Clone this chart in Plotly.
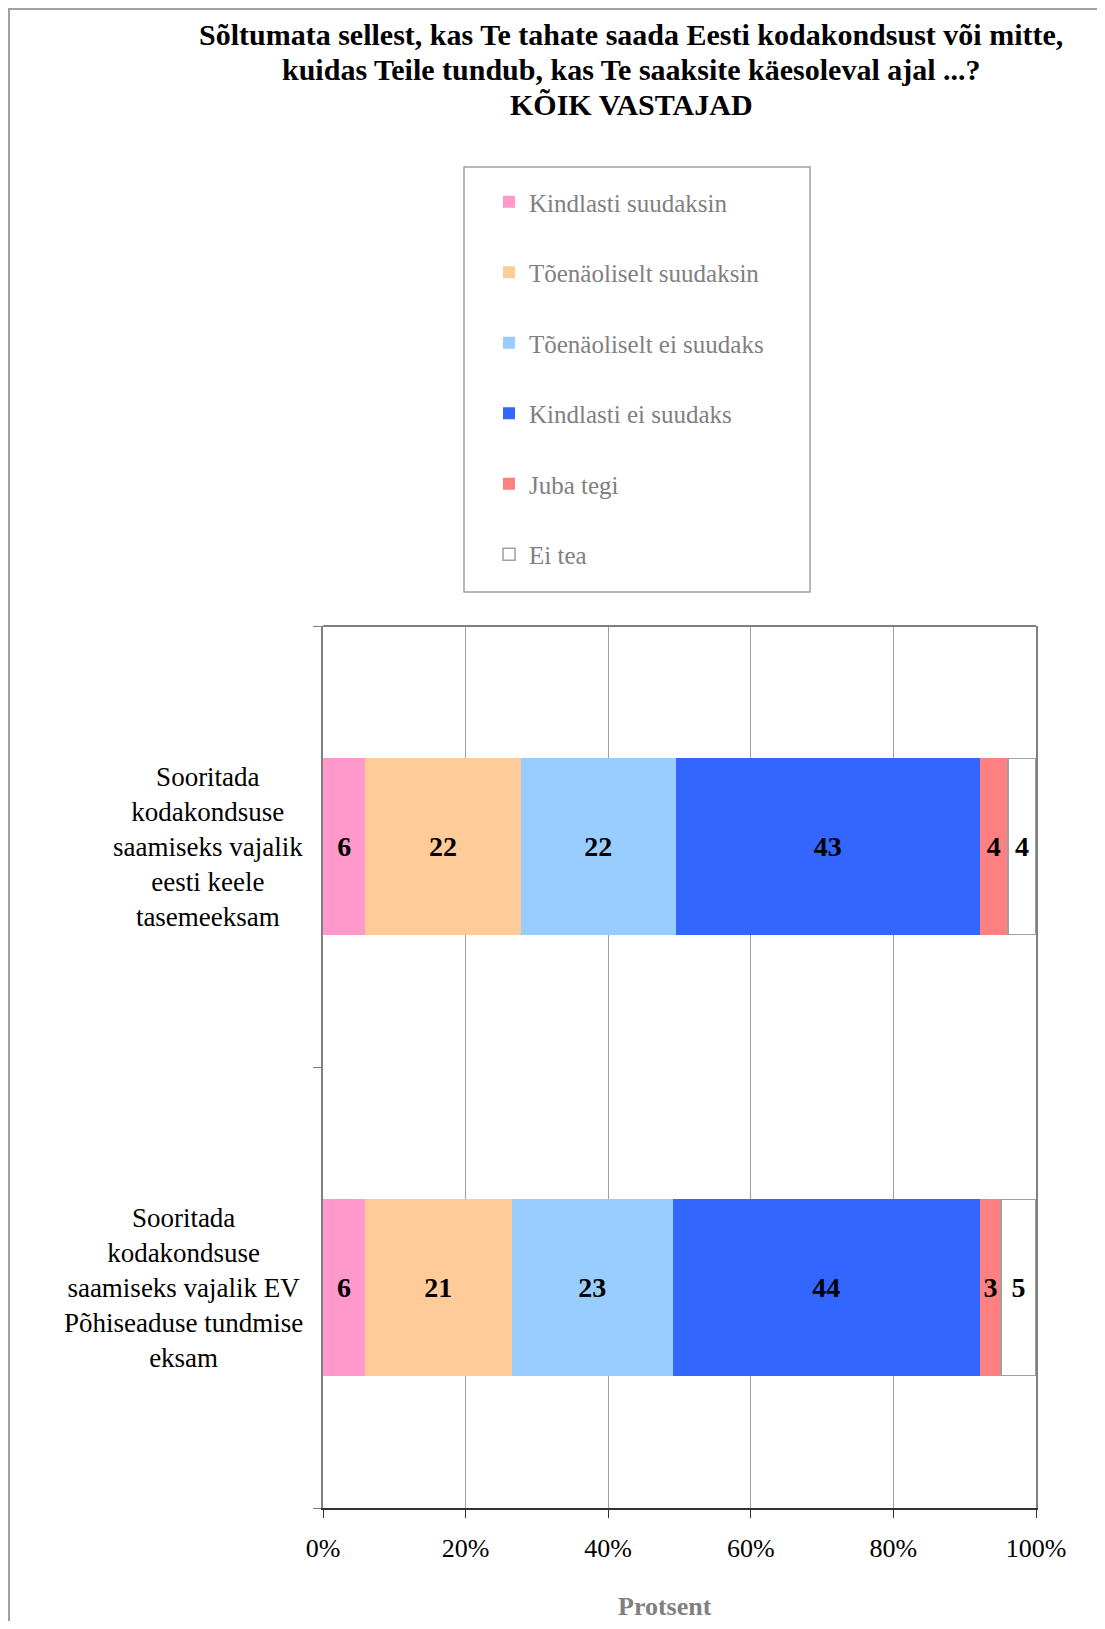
import plotly.graph_objects as go

# data
categories = [
    "Sooritada<br>kodakondsuse<br>saamiseks vajalik EV<br>Põhiseaduse tundmise<br>eksam",
    "Sooritada<br>kodakondsuse<br>saamiseks vajalik<br>eesti keele<br>tasemeeksam",
]
series_names = [
    "Kindlasti suudaksin",
    "Tõenäoliselt suudaksin",
    "Tõenäoliselt ei suudaks",
    "Kindlasti ei suudaks",
    "Juba tegi",
    "Ei tea",
]
# values per series, same order as categories (bottom, top)
values = [
    [6, 6],
    [21, 22],
    [23, 22],
    [44, 43],
    [3, 4],
    [5, 4],
]
colors = ["#FF99CC", "#FFCC99", "#99CCFF", "#3366FF", "#FF8080", "#FFFFFF"]
x_ticks = [0, 20, 40, 60, 80, 100]
x_ticktext = ["0%", "20%", "40%", "60%", "80%", "100%"]
title_lines = [
    "Sõltumata sellest, kas Te tahate saada Eesti kodakondsust või mitte,",
    "kuidas Teile tundub, kas Te saaksite käesoleval ajal ...?",
    "KÕIK VASTAJAD",
]

# the page body adds an 8px margin, so the figure is a bit smaller
OFF = 8
W, H = 1105 - 2 * OFF, 1629 - 2 * OFF
L, R, T, B = 323 - OFF, W - (1036 - OFF), 626 - OFF, H - (1508 - OFF)
SERIF = "Liberation Serif, Times New Roman, serif"


def px(x):
    # page pixel -> paper x
    return (x - OFF - L) / (W - L - R)


def py(y):
    # page pixel -> paper y
    return (H - B - (y - OFF)) / (H - T - B)


fig = go.Figure()

for name, vals, col in zip(series_names, values, colors):
    is_white = col == "#FFFFFF"
    fig.add_trace(
        go.Bar(
            y=categories,
            x=vals,
            name=name,
            orientation="h",
            legendgroup=name,
            marker=dict(
                color=col,
                line=dict(color="#A0A0A0" if is_white else col, width=1.5 if is_white else 0),
            ),
            text=[str(v) for v in vals],
            textposition="inside",
            insidetextanchor="middle",
            textangle=0,
            textfont=dict(family=SERIF, size=28, color="black", weight="bold"),
        )
    )

# title, one annotation per line
for i, line in enumerate(title_lines):
    fig.add_annotation(
        x=px(631),
        y=py(34 + i * 35.3),
        xref="paper",
        yref="paper",
        text="<b>" + line + "</b>",
        showarrow=False,
        xanchor="center",
        yanchor="middle",
        font=dict(family=SERIF, size=30, color="black"),
    )

# category labels, centred lines, right edge near the axis
for cat in categories:
    fig.add_annotation(
        x=px(305),
        xref="paper",
        y=cat,
        yref="y",
        text=cat,
        showarrow=False,
        xanchor="right",
        yanchor="middle",
        align="center",
        font=dict(family=SERIF, size=27, color="black"),
    )

fig.add_annotation(
    x=px(665),
    y=py(1606),
    xref="paper",
    yref="paper",
    text="<b>Protsent</b>",
    showarrow=False,
    xanchor="center",
    yanchor="middle",
    font=dict(family=SERIF, size=26, color="#808080"),
)

# legend box, page border, top frame line
fig.add_shape(
    type="rect", xref="paper", yref="paper",
    x0=px(464), x1=px(810), y0=py(592), y1=py(167),
    line=dict(color="#A0A0A0", width=1.5), fillcolor="rgba(0,0,0,0)", layer="below",
)
fig.add_shape(
    type="path", xref="paper", yref="paper",
    path=f"M {px(9)},{py(1700)} L {px(9)},{py(9)} L {px(1200)},{py(9)}",
    line=dict(color="#A0A0A0", width=2),
)
fig.add_shape(
    type="line", xref="paper", yref="paper",
    x0=0, x1=1, y0=1, y1=1,
    line=dict(color="#808080", width=2),
)

fig.update_layout(
    width=W,
    height=H,
    margin=dict(l=L, r=R, t=T, b=B),
    paper_bgcolor="white",
    plot_bgcolor="white",
    barmode="stack",
    barnorm="percent",
    bargap=0.6,
    font=dict(family=SERIF),
    legend=dict(
        x=px(489),
        y=py(179),
        xanchor="left",
        yanchor="top",
        bgcolor="rgba(0,0,0,0)",
        borderwidth=0,
        traceorder="grouped",
        tracegroupgap=35,
        font=dict(family=SERIF, size=25, color="#808080"),
    ),
    xaxis=dict(
        range=[0, 100],
        tickvals=x_ticks,
        ticktext=x_ticktext,
        showgrid=True,
        gridcolor="#A0A0A0",
        gridwidth=1,
        zeroline=False,
        showline=True,
        linecolor="#333333",
        linewidth=2,
        ticks="outside",
        ticklen=8,
        tickcolor="#333333",
        ticklabelstandoff=8,
        tickfont=dict(family=SERIF, size=26, color="black"),
        fixedrange=True,
    ),
    yaxis=dict(
        type="category",
        categoryorder="array",
        categoryarray=categories,
        showticklabels=False,
        tickson="boundaries",
        ticks="outside",
        ticklen=8,
        tickcolor="#808080",
        showline=True,
        mirror=True,
        linecolor="#808080",
        linewidth=2,
        showgrid=False,
        fixedrange=True,
    ),
)

fig.write_html("out.html")
